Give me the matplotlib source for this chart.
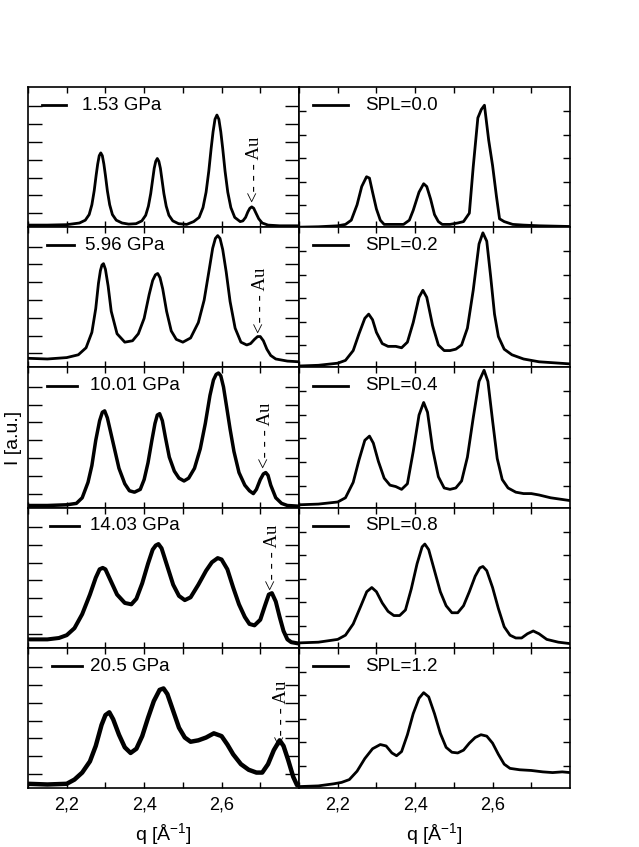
import matplotlib
matplotlib.use("Agg")
import matplotlib.pyplot as plt
from matplotlib.ticker import FixedLocator, FixedFormatter

plt.rcParams['font.family'] = ['Liberation Sans', 'DejaVu Sans']
plt.rcParams['mathtext.fontset'] = 'custom'
plt.rcParams['mathtext.rm'] = 'Liberation Sans'
plt.rcParams['mathtext.it'] = 'Liberation Sans'
plt.rcParams['mathtext.bf'] = 'Liberation Sans'

# ---------------- data (q in 1/Angstrom, intensity in a.u., normalised to panel) ----
exp_labels = ["1.53 GPa", "5.96 GPa", "10.01 GPa", "14.03 GPa", "20.5 GPa"]
sim_labels = ["SPL=0.0", "SPL=0.2", "SPL=0.4", "SPL=0.8", "SPL=1.2"]

q_e1 = [2.10, 2.15, 2.20, 2.233, 2.248, 2.258, 2.265, 2.271, 2.276, 2.280, 2.284, 2.288, 2.292, 2.296, 2.300,
        2.305, 2.311, 2.318, 2.328, 2.343, 2.36,
        2.379, 2.394, 2.404, 2.411, 2.417, 2.422, 2.426, 2.430, 2.434, 2.438, 2.442, 2.446, 2.451, 2.457, 2.464,
        2.474, 2.489, 2.51,
        2.528, 2.542, 2.552, 2.560, 2.567, 2.573, 2.578, 2.583, 2.588, 2.593, 2.598, 2.603, 2.609, 2.616, 2.624,
        2.634, 2.648,
        2.655, 2.662, 2.668, 2.673, 2.678, 2.683, 2.689, 2.696, 2.705, 2.72, 2.75, 2.80]
i_e1 = [0.015, 0.015, 0.018, 0.03, 0.05, 0.09, 0.16, 0.26, 0.37, 0.45, 0.51, 0.53, 0.51, 0.45, 0.37,
        0.26, 0.16, 0.09, 0.05, 0.03, 0.022,
        0.025, 0.045, 0.085, 0.15, 0.24, 0.34, 0.42, 0.47, 0.49, 0.47, 0.42, 0.34, 0.24, 0.15, 0.085,
        0.045, 0.025, 0.02,
        0.04, 0.07, 0.14, 0.25, 0.40, 0.56, 0.68, 0.77, 0.80, 0.77, 0.68, 0.56, 0.40, 0.25, 0.14,
        0.07, 0.04,
        0.045, 0.07, 0.11, 0.135, 0.145, 0.135, 0.10, 0.06, 0.03, 0.015, 0.01, 0.01]

q_e2 = [2.10, 2.15, 2.20, 2.23, 2.25, 2.265, 2.275, 2.282, 2.287, 2.291, 2.295, 2.300, 2.307, 2.315, 2.33, 2.35,
        2.37, 2.385, 2.40, 2.413, 2.422, 2.429, 2.435, 2.441, 2.448, 2.458, 2.47, 2.483, 2.50, 2.52, 2.54, 2.555,
        2.567, 2.577, 2.584, 2.59, 2.596, 2.603, 2.612, 2.622, 2.635, 2.65, 2.665, 2.675, 2.685, 2.693, 2.70,
        2.708, 2.717, 2.727, 2.74, 2.77, 2.80]
i_e2 = [0.065, 0.06, 0.07, 0.09, 0.14, 0.25, 0.42, 0.60, 0.69, 0.73, 0.74, 0.70, 0.58, 0.40, 0.24, 0.18,
        0.19, 0.24, 0.35, 0.52, 0.62, 0.66, 0.67, 0.64, 0.56, 0.40, 0.26, 0.20, 0.18, 0.21, 0.32, 0.48,
        0.68, 0.85, 0.92, 0.94, 0.92, 0.84, 0.68, 0.47, 0.28, 0.18, 0.16, 0.17, 0.20, 0.22, 0.22,
        0.19, 0.13, 0.085, 0.06, 0.045, 0.04]

q_e3 = [2.10, 2.15, 2.20, 2.225, 2.24, 2.255, 2.265, 2.275, 2.285, 2.292, 2.298, 2.305, 2.315, 2.325, 2.335, 2.35,
        2.362, 2.375, 2.39, 2.40, 2.41, 2.42, 2.428, 2.434, 2.44, 2.447, 2.455, 2.465, 2.478, 2.49, 2.503, 2.515,
        2.53, 2.545, 2.558, 2.57, 2.579, 2.586, 2.592, 2.598, 2.605, 2.613, 2.622, 2.632, 2.645, 2.66, 2.672,
        2.682, 2.69, 2.70, 2.708, 2.714, 2.72, 2.727, 2.74, 2.755, 2.77, 2.80]
i_e3 = [0.015, 0.015, 0.02, 0.03, 0.07, 0.18, 0.30, 0.48, 0.62, 0.68, 0.69, 0.64, 0.52, 0.40, 0.28, 0.17,
        0.12, 0.11, 0.13, 0.20, 0.32, 0.48, 0.60, 0.66, 0.67, 0.62, 0.50, 0.36, 0.26, 0.21, 0.19, 0.21,
        0.28, 0.42, 0.60, 0.80, 0.91, 0.95, 0.96, 0.94, 0.86, 0.72, 0.56, 0.40, 0.25, 0.16, 0.12,
        0.10, 0.13, 0.20, 0.24, 0.25, 0.23, 0.16, 0.07, 0.03, 0.015, 0.01]

q_e4 = [2.10, 2.15, 2.18, 2.20, 2.22, 2.24, 2.26, 2.275, 2.285, 2.293, 2.30, 2.315, 2.33, 2.35, 2.367, 2.38,
        2.395, 2.41, 2.422, 2.43, 2.437, 2.445, 2.46, 2.475, 2.49, 2.505, 2.52, 2.54, 2.56, 2.575, 2.59, 2.60,
        2.615, 2.63, 2.645, 2.66, 2.672, 2.685, 2.70, 2.712, 2.722, 2.73, 2.74, 2.75, 2.76, 2.77, 2.78, 2.80]
i_e4 = [0.06, 0.06, 0.07, 0.09, 0.14, 0.24, 0.38, 0.50, 0.56, 0.57, 0.56, 0.47, 0.38, 0.32, 0.31, 0.35,
        0.46, 0.60, 0.70, 0.73, 0.74, 0.71, 0.58, 0.45, 0.37, 0.34, 0.36, 0.45, 0.55, 0.61, 0.64, 0.63,
        0.56, 0.43, 0.31, 0.22, 0.17, 0.16, 0.20, 0.30, 0.38, 0.39, 0.33, 0.22, 0.12, 0.06, 0.04, 0.03]

q_e5 = [2.10, 2.15, 2.20, 2.22, 2.24, 2.26, 2.275, 2.29, 2.30, 2.31, 2.32, 2.335, 2.35, 2.365, 2.38, 2.395,
        2.41, 2.425, 2.44, 2.45, 2.46, 2.475, 2.49, 2.505, 2.52, 2.54, 2.56, 2.58, 2.60, 2.615, 2.63, 2.65,
        2.67, 2.69, 2.705, 2.72, 2.735, 2.75, 2.76, 2.772, 2.785, 2.795, 2.80]
i_e5 = [0.03, 0.025, 0.03, 0.06, 0.11, 0.19, 0.30, 0.45, 0.52, 0.54, 0.49, 0.38, 0.29, 0.25, 0.28, 0.37,
        0.50, 0.62, 0.70, 0.71, 0.67, 0.55, 0.43, 0.36, 0.33, 0.34, 0.36, 0.39, 0.37, 0.31, 0.24, 0.17,
        0.13, 0.11, 0.11, 0.17, 0.27, 0.34, 0.30, 0.20, 0.08, 0.02, 0.02]

q_s1 = [2.10, 2.15, 2.20, 2.22, 2.235, 2.25, 2.262, 2.2745, 2.282, 2.29, 2.30, 2.31, 2.32, 2.35, 2.37, 2.385,
        2.395, 2.41, 2.422, 2.43, 2.44, 2.45, 2.46, 2.47, 2.49, 2.51, 2.525, 2.54, 2.55, 2.562, 2.571, 2.579,
        2.59, 2.60, 2.61, 2.618, 2.63, 2.652, 2.68, 2.72, 2.80]
i_s1 = [0.0, 0.003, 0.01, 0.02, 0.05, 0.16, 0.29, 0.36, 0.35, 0.25, 0.13, 0.05, 0.02, 0.02, 0.02, 0.05,
        0.12, 0.25, 0.31, 0.29, 0.20, 0.09, 0.04, 0.02, 0.02, 0.03, 0.04, 0.10, 0.43, 0.78, 0.84, 0.87,
        0.62, 0.44, 0.22, 0.06, 0.04, 0.02, 0.015, 0.01, 0.005]

q_s2 = [2.10, 2.15, 2.20, 2.22, 2.24, 2.255, 2.27, 2.28, 2.29, 2.30, 2.315, 2.33, 2.35, 2.365, 2.38, 2.395,
        2.41, 2.42, 2.43, 2.445, 2.46, 2.475, 2.49, 2.505, 2.52, 2.535, 2.55, 2.565, 2.575, 2.585, 2.595, 2.605,
        2.615, 2.63, 2.65, 2.68, 2.72, 2.80]
i_s2 = [0.01, 0.015, 0.03, 0.05, 0.12, 0.24, 0.35, 0.38, 0.34, 0.25, 0.17, 0.15, 0.15, 0.14, 0.18, 0.32,
        0.50, 0.55, 0.50, 0.30, 0.16, 0.12, 0.12, 0.13, 0.16, 0.28, 0.55, 0.88, 0.96, 0.90, 0.65, 0.38,
        0.22, 0.13, 0.09, 0.06, 0.04, 0.025]

q_s3 = [2.10, 2.15, 2.20, 2.22, 2.24, 2.255, 2.27, 2.282, 2.292, 2.305, 2.32, 2.335, 2.35, 2.365, 2.38, 2.395,
        2.41, 2.422, 2.432, 2.445, 2.46, 2.475, 2.49, 2.505, 2.52, 2.535, 2.55, 2.565, 2.578, 2.588, 2.60, 2.612,
        2.625, 2.64, 2.66, 2.68, 2.70, 2.72, 2.75, 2.80]
i_s3 = [0.02, 0.025, 0.04, 0.07, 0.18, 0.34, 0.48, 0.51, 0.46, 0.33, 0.21, 0.16, 0.15, 0.13, 0.17, 0.40,
        0.66, 0.75, 0.68, 0.42, 0.22, 0.14, 0.13, 0.14, 0.19, 0.36, 0.64, 0.90, 0.98, 0.90, 0.62, 0.35,
        0.20, 0.14, 0.11, 0.10, 0.10, 0.09, 0.07, 0.05]

q_s4 = [2.10, 2.15, 2.20, 2.22, 2.24, 2.26, 2.275, 2.288, 2.30, 2.315, 2.33, 2.345, 2.36, 2.375, 2.39, 2.405,
        2.418, 2.425, 2.435, 2.45, 2.465, 2.48, 2.495, 2.51, 2.525, 2.54, 2.555, 2.567, 2.575, 2.585, 2.60, 2.615,
        2.63, 2.645, 2.66, 2.675, 2.69, 2.705, 2.72, 2.74, 2.77, 2.80]
i_s4 = [0.035, 0.04, 0.06, 0.09, 0.17, 0.30, 0.40, 0.43, 0.40, 0.32, 0.26, 0.23, 0.23, 0.27, 0.42, 0.60,
        0.72, 0.74, 0.70, 0.55, 0.40, 0.30, 0.25, 0.25, 0.30, 0.40, 0.51, 0.57, 0.58, 0.55, 0.43, 0.28,
        0.15, 0.09, 0.07, 0.07, 0.10, 0.12, 0.10, 0.06, 0.04, 0.03]

q_s5 = [2.10, 2.15, 2.19, 2.21, 2.23, 2.25, 2.27, 2.29, 2.31, 2.325, 2.34, 2.352, 2.365, 2.38, 2.395, 2.41,
        2.422, 2.435, 2.45, 2.465, 2.48, 2.495, 2.51, 2.525, 2.54, 2.555, 2.57, 2.585, 2.60, 2.615, 2.63, 2.645,
        2.67, 2.70, 2.73, 2.755, 2.78, 2.80]
i_s5 = [0.01, 0.015, 0.03, 0.04, 0.06, 0.12, 0.21, 0.28, 0.31, 0.30, 0.25, 0.23, 0.26, 0.38, 0.53, 0.64,
        0.68, 0.65, 0.53, 0.39, 0.29, 0.255, 0.25, 0.27, 0.32, 0.36, 0.38, 0.37, 0.32, 0.24, 0.17, 0.14,
        0.13, 0.125, 0.115, 0.11, 0.115, 0.11]

exp_q = [q_e1, q_e2, q_e3, q_e4, q_e5]
exp_i = [i_e1, i_e2, i_e3, i_e4, i_e5]
sim_q = [q_s1, q_s2, q_s3, q_s4, q_s5]
sim_i = [i_s1, i_s2, i_s3, i_s4, i_s5]

# Au marker positions (q, height)
au_q = [2.684, 2.70, 2.713, 2.731, 2.754]
au_y = [0.18, 0.245, 0.28, 0.41, 0.30]

xticks_major = [2.2, 2.4, 2.6]
xtick_labels = ["2,2", "2,4", "2,6"]

# ---------------- layout ----------------
W, H = 639, 847
fig = plt.figure(figsize=(W / 100, H / 100), dpi=100)

col_x = [28, 299]
col_w = 271
row_top = 87
row_h = 140.2

exp_lw = [2.0, 2.0, 2.5, 2.9, 3.2]
leg_line_x = [(0.05, 0.14), (0.07, 0.17), (0.07, 0.18), (0.08, 0.19), (0.09, 0.20)]
leg_text_x = [0.20, 0.21, 0.23, 0.23, 0.23]

for r in range(5):
    for c in range(2):
        left = col_x[c] / W
        bottom = 1 - (row_top + (r + 1) * row_h) / H
        ax = fig.add_axes([left, bottom, col_w / W, row_h / H])
        if c == 0:
            ax.plot(exp_q[r], exp_i[r], color='black', lw=exp_lw[r], solid_joinstyle='round')
            label = exp_labels[r]
            lx = leg_line_x[r]
            tx = leg_text_x[r]
            ax.text(au_q[r], au_y[r], "<- - - Au", rotation=90, ha='center', va='bottom',
                    family=['Liberation Serif', 'DejaVu Serif'], fontsize=13.5)
            ax.yaxis.set_major_locator(FixedLocator([0.1 + 0.127 * k for k in range(7)]))
            ylen = 10
        else:
            ax.plot(sim_q[r], sim_i[r], color='black', lw=2.0, solid_joinstyle='round')
            label = sim_labels[r]
            lx = (0.05, 0.18)
            tx = 0.245
            ax.yaxis.set_major_locator(FixedLocator([0.157 + 0.168 * k for k in range(5)]))
            ylen = 5
        ax.plot(lx, [0.87, 0.87], color='black', lw=2.0, transform=ax.transAxes)
        ax.text(tx, 0.87, label, transform=ax.transAxes, ha='left', va='center', fontsize=13.5)

        ax.set_xlim(2.1, 2.8)
        ax.set_ylim(0, 1)
        ax.xaxis.set_major_locator(FixedLocator(xticks_major))
        ax.xaxis.set_minor_locator(FixedLocator([2.1, 2.3, 2.5, 2.7]))
        if r == 4:
            ax.xaxis.set_major_formatter(FixedFormatter(xtick_labels))
        else:
            ax.set_xticklabels([])
        ax.set_yticklabels([])
        ax.tick_params(axis='x', which='both', direction='in', top=True, bottom=True,
                       length=4.5, width=1.0, labelsize=13, pad=6)
        ax.tick_params(axis='y', which='both', direction='in', left=True, right=True,
                       length=ylen, width=1.0)
        for s in ax.spines.values():
            s.set_linewidth(1.2)

fig.text(14 / W, 1 - 438 / H, "I [a.u.]", rotation=90, ha='center', va='center', fontsize=14)
fig.text(163.5 / W, 1 - 834 / H, r"q [Å$^{-1}$]", ha='center', va='center', fontsize=14)
fig.text(434.5 / W, 1 - 834 / H, r"q [Å$^{-1}$]", ha='center', va='center', fontsize=14)

fig.savefig("out.png", dpi=100)
